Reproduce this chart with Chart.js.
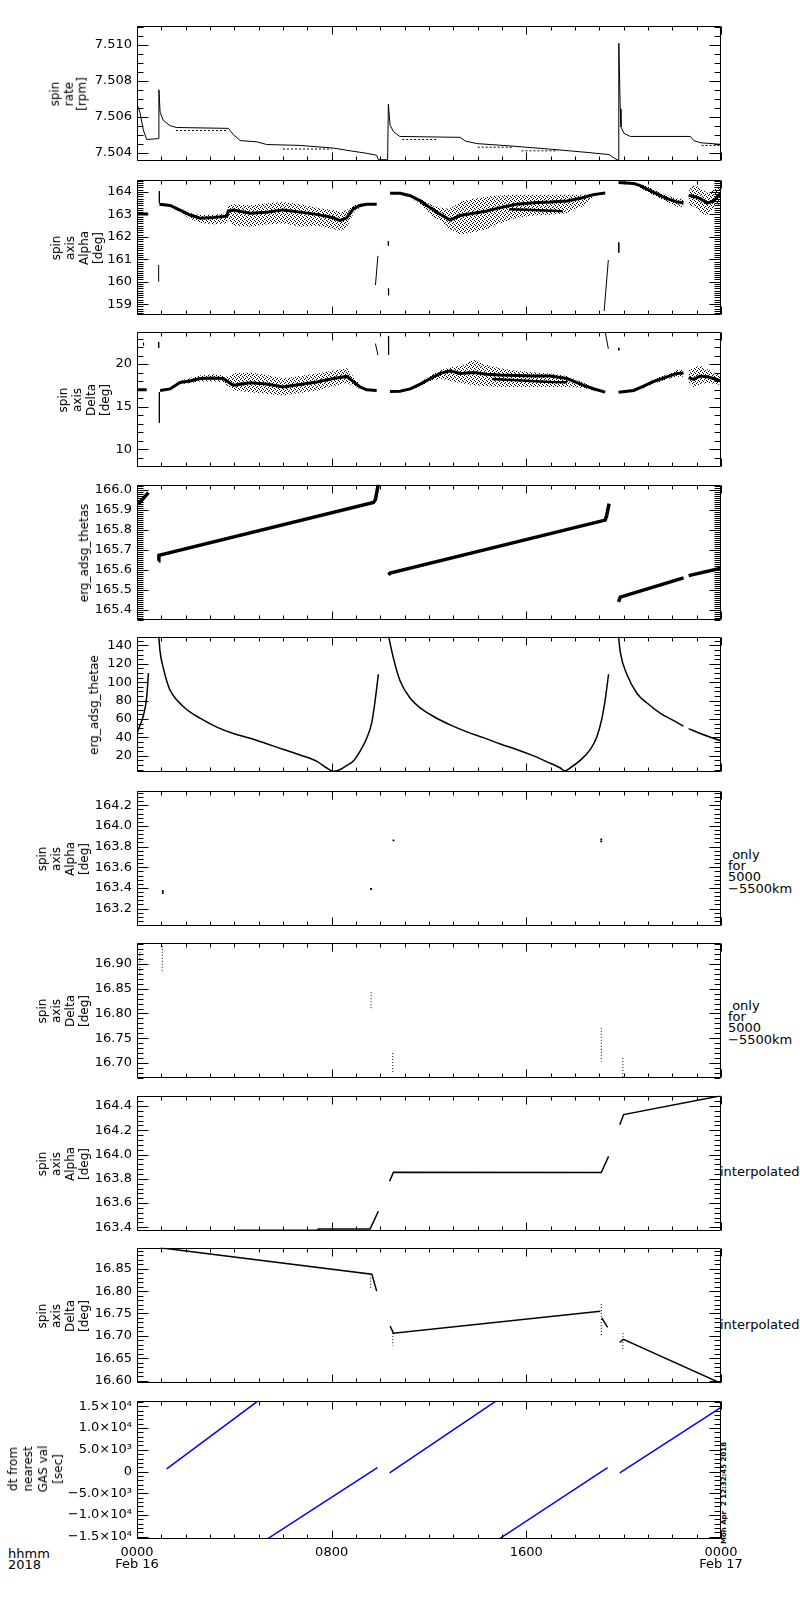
<!DOCTYPE html>
<html>
<head>
<meta charset="utf-8">
<script src="https://cdn.jsdelivr.net/npm/chart.js@4.4.1/dist/chart.umd.min.js"></script>
<style>
  body { margin: 0; background: #fff; width: 800px; height: 1600px; position: relative; overflow: hidden;
         font-family: "DejaVu Sans", sans-serif; color: #000; }
  .panel { position: absolute; left: 0; width: 800px; }
  .note { position: absolute; font-size: 13px; line-height: 11.2px; white-space: pre; }
  .ytitle { position: absolute; font-size: 12px; white-space: pre; text-align: center;
            transform: translate(-50%, -50%) rotate(-90deg); }
  .stamp { position: absolute; font-size: 7px; font-weight: bold; white-space: pre;
           transform: translate(-50%, -50%) rotate(-90deg); }
</style>
</head>
<body>
<div class="note" style="left:8px;top:1548px">hhmm
2018</div>
<div class="note" style="left:728px;top:849px"> only
for
5000
−5500km</div>
<div class="note" style="left:728px;top:1000px"> only
for
5000
−5500km</div>
<div class="note" style="left:720px;top:1166px">interpolated</div>
<div class="note" style="left:720px;top:1319px">interpolated</div>
<div class="stamp" style="left:724px;top:1493px">Mon Apr  2 12:32:45 2018</div>

<script>
// time axis, hours from 0000 Feb 16
const xTickHours = [0, 8, 16, 24];
const xTickText = [['0000', 'Feb 16'], '0800', '1600', ['0000', 'Feb 17']];

// spin rate [rpm]
const rateHours = [0, 0.12, 0.26, 0.40, 0.88, 0.9, 0.95, 1.08, 1.36, 1.63, 3.76, 3.96, 4.24, 4.92, 5.33, 6.7, 8.07, 8.76, 9.44, 9.85, 9.92, 10.3, 10.33, 10.4, 10.54, 10.8, 13.28, 13.5, 13.98, 15.35, 17.0, 18.5, 19.4, 19.72, 19.78, 19.8, 19.86, 19.89, 20.0, 20.27, 22.74, 22.88, 23.15, 24];
const rateValues = [7.5067, 7.50625, 7.50526, 7.50473, 7.50478, 7.5075, 7.50625, 7.5058, 7.5055, 7.5054, 7.50535, 7.505, 7.50467, 7.5046, 7.50445, 7.5044, 7.50425, 7.5041, 7.50396, 7.50385, 7.5036, 7.5036, 7.5067, 7.50553, 7.50517, 7.5049, 7.50485, 7.50464, 7.5045, 7.50437, 7.50419, 7.50401, 7.50389, 7.5036, 7.5036, 7.5101, 7.50643, 7.50544, 7.50509, 7.5049, 7.5049, 7.50467, 7.50455, 7.50446];
const rateRowHours = [1.6, 3.7, 3.72, 6.0, 8.0, 8.02, 10.9, 12.3, 12.32, 14.0, 15.4, 15.42, 15.8, 17.3, 17.32, 23.2, 24];
const rateRowValues = [7.50523, 7.50523, null, 7.5042, 7.5042, null, 7.50473, 7.50473, null, 7.5043, 7.5043, null, 7.5041, 7.5041, null, 7.5044, 7.5044];

// spin axis Alpha [deg]
const alphaHours = [0, 0.45, 0.6,
  0.92, 1.36, 1.77, 2.18, 2.59, 3.14, 3.69, 3.75, 3.96, 4.65, 5.33, 6.0, 6.7, 7.39, 8.07, 8.35, 8.62, 8.9, 9.17, 9.44, 9.85, 10.1,
  10.4, 10.81, 11.23, 11.64, 12.05, 12.47, 12.87, 13.28, 13.83, 14.38, 14.93, 15.6, 16.3, 16.98, 17.67, 18.36, 18.76, 19.24, 19.5,
  19.79, 20.41, 20.68, 21.1, 21.5, 21.78, 22.19, 22.46, 22.55,
  22.67, 22.88, 23.15, 23.43, 23.7, 24];
const alphaCore = [163.02, 163.02, null,
  163.45, 163.40, 163.19, 162.97, 162.83, 162.86, 162.92, 163.15, 163.19, 163.05, 163.1, 163.2, 163.1, 163.0, 162.85, 162.72, 162.85, 163.25, 163.4, 163.45, 163.45, null,
  163.94, 163.94, 163.83, 163.6, 163.3, 163.0, 162.75, 162.95, 163.05, 163.15, 163.3, 163.45, 163.52, 163.55, 163.6, 163.75, 163.88, 163.95, null,
  164.42, 164.38, 164.28, 164.05, 163.85, 163.7, 163.55, 163.52, null,
  163.85, 163.8, 163.7, 163.5, 163.6, 163.95];
const alphaUpper = [163.07, 163.07, null,
  163.48, 163.45, 163.27, 163.06, 162.97, 162.98, 163.05, 163.4, 163.45, 163.4, 163.5, 163.55, 163.45, 163.3, 163.2, 163.1, 163.2, 163.42, 163.47, 163.48, 163.48, null,
  163.97, 163.98, 163.88, 163.7, 163.45, 163.3, 163.25, 163.55, 163.7, 163.78, 163.85, 163.87, 163.87, 163.87, 163.87, 163.87, 163.93, 163.98, null,
  164.45, 164.42, 164.35, 164.2, 164.0, 163.85, 163.7, 163.7, null,
  164.1, 164.3, 164.2, 163.95, 164.1, 164.3];
const alphaLower = [162.97, 162.97, null,
  163.42, 163.33, 163.08, 162.8, 162.62, 162.55, 162.6, 162.8, 162.5, 162.45, 162.55, 162.6, 162.45, 162.5, 162.35, 162.25, 162.4, 163.05, 163.32, 163.42, 163.42, null,
  163.91, 163.9, 163.75, 163.45, 163.0, 162.7, 162.3, 162.1, 162.2, 162.35, 162.6, 162.85, 162.95, 162.98, 163.05, 163.4, 163.8, 163.92, null,
  164.39, 164.34, 164.2, 163.9, 163.7, 163.55, 163.35, 163.3, null,
  163.4, 163.35, 163.1, 162.95, 163.3, 163.5];
const alphaCore2Hours = [15.3, 16.3, 17.5];
const alphaCore2Values = [163.23, 163.2, 163.14];
const alphaSpikeHours = [0.89, 0.89, 0.9, 0.92, 0.92, 1.0, 9.8, 9.9, 10.0, 10.33, 10.33, 10.34, 10.33, 10.34, 10.4, 19.2, 19.37, 19.5, 19.79, 19.8];
const alphaSpikeValues = [160.0, 160.75, null, 164.04, 163.5, null, 159.85, 161.15, null, 161.8, 161.6, null, 159.7, 159.4, null, 158.7, 160.97, null, 161.75, 161.3];

// spin axis Delta [deg]
const deltaHours = [0, 0.4, 0.6,
  0.95, 1.36, 1.77, 2.18, 2.59, 3.14, 3.55, 3.69, 3.96, 4.65, 5.33, 6.0, 6.7, 7.39, 8.07, 8.62, 8.9, 9.17, 9.44, 9.85, 10.1,
  10.4, 10.81, 11.23, 11.64, 12.05, 12.47, 12.87, 13.28, 13.83, 14.38, 14.93, 15.6, 16.3, 16.98, 17.67, 18.36, 18.76, 19.24, 19.5,
  19.79, 20.41, 20.82, 21.23, 21.78, 22.19, 22.46, 22.55,
  22.67, 22.88, 23.15, 23.43, 23.7, 24];
const deltaCore = [16.97, 16.97, null,
  16.9, 17.08, 17.84, 18.0, 18.3, 18.35, 18.3, 18.0, 17.5, 17.8, 17.65, 17.3, 17.6, 17.9, 18.3, 18.55, 17.9, 17.3, 16.97, 16.9, null,
  16.78, 16.8, 17.08, 17.65, 18.3, 18.9, 19.2, 18.9, 19.0, 18.8, 18.7, 18.65, 18.6, 18.6, 18.3, 17.5, 17.1, 16.7, null,
  16.7, 16.9, 17.4, 17.95, 18.5, 18.9, 18.95, null,
  18.4, 18.2, 18.6, 18.5, 18.3, 18.0];
const deltaUpper = [17.03, 17.03, null,
  16.97, 17.2, 18.05, 18.35, 18.65, 18.8, 18.65, 18.5, 18.9, 19.0, 18.7, 18.3, 18.6, 18.9, 19.2, 19.5, 18.5, 17.55, 17.05, 16.97, null,
  16.82, 16.86, 17.2, 17.85, 18.6, 19.3, 19.6, 19.8, 20.5, 19.9, 19.5, 19.2, 19.0, 18.9, 18.6, 17.8, 17.3, 16.75, null,
  16.73, 16.97, 17.6, 18.2, 18.8, 19.3, 19.4, null,
  19.3, 19.6, 19.8, 19.4, 19.0, 18.8];
const deltaLower = [16.91, 16.91, null,
  16.83, 16.98, 17.65, 17.75, 17.95, 17.95, 17.9, 17.5, 16.9, 16.7, 16.5, 16.3, 16.6, 16.9, 17.4, 17.8, 17.4, 17.05, 16.88, 16.83, null,
  16.74, 16.74, 16.95, 17.4, 18.0, 18.3, 18.0, 17.8, 17.5, 17.4, 17.3, 17.3, 17.3, 17.3, 17.3, 17.2, 16.9, 16.65, null,
  16.67, 16.83, 17.2, 17.7, 18.2, 18.5, 18.5, null,
  17.8, 17.3, 17.6, 17.8, 17.7, 17.5];
const deltaCore2Hours = [14.6, 15.6, 16.98, 17.67];
const deltaCore2Values = [18.25, 18.1, 17.9, 17.85];
const deltaSpikeHours = [0.26, 0.27, 0.3, 0.89, 0.89, 0.9, 0.92, 0.92, 1.0, 9.8, 9.9, 10.0, 10.33, 10.34, 10.36, 19.24, 19.37, 19.5, 19.79, 19.8];
const deltaSpikeValues = [22.5, 22.2, null, 22.6, 21.9, null, 16.7, 13.1, null, 22.4, 21.06, null, 23.3, 21.1, null, 23.8, 21.8, null, 21.9, 21.6];

// erg_adsg_thetas
const thetasHours = [0.05, 0.47, 0.6, 0.88, 0.9, 9.72, 9.8, 9.92, 10.1, 10.33, 10.4, 19.24, 19.3, 19.4, 19.6, 19.79, 19.86, 22.46, 22.55, 22.67, 24];
const thetasValues = [165.928, 165.985, null, 165.645, 165.672, 165.936, 165.95, 166.03, null, 165.576, 165.584, 165.848, 165.87, 165.93, null, 165.44, 165.464, 165.56, null, 165.571, 165.608];

// erg_adsg_thetae
const thetaeHours = [0, 0.12, 0.26, 0.4, 0.47, 0.6,
  0.88, 0.95, 1.08, 1.22, 1.36, 1.63, 2.04, 2.59, 3.28, 3.96, 4.65, 5.33, 6.02, 6.7, 7.39, 7.8, 8.07, 8.28, 8.62, 8.9, 9.17, 9.44, 9.65, 9.79, 9.92, 10.1,
  10.3, 10.54, 10.81, 11.23, 11.64, 12.19, 12.87, 13.56, 14.24, 14.93, 15.6, 16.3, 16.98, 17.4, 17.57, 17.81, 18.2, 18.63, 18.9, 19.1, 19.24, 19.38, 19.6,
  19.77, 19.86, 20.13, 20.55, 20.96, 21.51, 22.06, 22.46, 22.55,
  22.67, 23.15, 24];
const thetaeValues = [44.3, 53, 63.5, 84.3, 110, null,
  155, 133, 115.7, 101.7, 91.3, 80.9, 70.4, 61, 51.3, 44.3, 39.1, 33.2, 27, 21, 14.1, 6.8, 3.3, 4.3, 9.6, 14.8, 25.2, 39.1, 56.5, 80.9, 108.7, null,
  155, 126, 101.7, 82.6, 72.2, 62.8, 53.7, 46.1, 39.8, 32.9, 27, 20, 12, 6.8, 3.7, 7.1, 14.8, 27, 40.9, 60, 80.9, 108.7, null,
  155, 133, 108.7, 87.8, 77.4, 66.3, 58.3, 52.3, null,
  49.6, 44.3, 36.3];

// spin axis Alpha, only for 5000-5500km
const altAlphaHours = [1.06, 1.06, 9.62, 10.54, 19.08, 19.08];
const altAlphaValues = [163.37, 163.35, 163.39, 163.86, 163.87, 163.85];

// spin axis Delta, only for 5000-5500km
const altDeltaHours = [0.12, 0.12, 0.2, 1.04, 1.04, 1.1, 9.62, 9.62, 9.7, 10.51, 10.51, 10.6, 19.08, 19.08, 19.1, 19.97, 19.97];
const altDeltaValues = [16.93, 16.875, null, 16.937, 16.882, null, 16.843, 16.81, null, 16.72, 16.68, null, 16.771, 16.703, null, 16.71, 16.67];

// spin axis Alpha, interpolated
const interpAlphaHours = [4.1, 7.39, 7.45, 9.58, 9.92, 10.1, 10.38, 10.54, 19.08, 19.38, 19.6, 19.84, 20.0, 24];
const interpAlphaValues = [163.376, 163.376, 163.387, 163.387, 163.533, null, 163.78, 163.855, 163.852, 163.985, null, 164.246, 164.33, 164.485];

// spin axis Delta, interpolated
const interpDeltaHours = [0.95, 9.65, 9.85, 10.1, 10.4, 10.54, 19.04, 19.06, 19.1, 19.34, 19.6, 19.83, 19.99, 24];
const interpDeltaValues = [16.897, 16.838, 16.80, null, 16.722, 16.706, 16.755, null, 16.74, 16.719, null, 16.685, 16.692, 16.594];
const interpDeltaDotHours = [9.6, 9.6, 9.62, 10.51, 10.51, 10.55, 19.08, 19.08, 19.1, 19.97, 19.97];
const interpDeltaDotValues = [16.83, 16.805, null, 16.706, 16.678, null, 16.771, 16.699, null, 16.706, 16.667];

// dt from nearest GAS val [sec]
const dtHours = [1.22, 4.99, 5.1, 5.33, 9.88, 10.1, 10.38, 14.78, 14.82, 14.86, 19.34, 19.6, 19.84, 24];
const dtValues = [600, 16300, null, -15600, 905, null, -300, 16300, null, -15600, 905, null, -300, 14778];
const dtTickValues = [-15000, -10000, -5000, 0, 5000, 10000, 15000];
const dtTickText = ['−1.5×10⁴', '−1.0×10⁴', '−5.0×10³', '0', '5.0×10³', '1.0×10⁴', '1.5×10⁴'];

Chart.defaults.font.family = '"DejaVu Sans", sans-serif';
Chart.defaults.color = '#000';

function pts(hours, values) {
  return hours.map((h, i) => ({ x: h, y: values[i] }));
}

function line(hours, values, extra) {
  return Object.assign({
    data: pts(hours, values),
    borderColor: '#000',
    borderWidth: 1,
    pointRadius: 0,
    fill: false,
    spanGaps: false
  }, extra || {});
}

// sparse scatter look for the noisy parts
function stipple() {
  const c = document.createElement('canvas');
  c.width = 4; c.height = 4;
  const g = c.getContext('2d');
  g.fillStyle = '#000';
  [[0, 0], [2, 1], [1, 3], [3, 2]].forEach(([a, b]) => g.fillRect(a, b, 1, 1));
  return g.createPattern(c, 'repeat');
}

function band(hours, upper, lower) {
  return [
    line(hours, upper, { borderColor: 'rgba(0,0,0,0)' }),
    line(hours, lower, { borderColor: 'rgba(0,0,0,0)', fill: '-1', backgroundColor: stipple() })
  ];
}

// box with inward ticks on all four sides, like the original plot
const idlFrame = {
  id: 'idlFrame',
  afterDraw(chart, args, opts) {
    const { ctx, chartArea: a, scales: { x, y } } = chart;
    const L = Math.round(a.left) + 0.5, R = Math.round(a.right) - 0.5;
    const T = Math.round(a.top) + 0.5, B = Math.round(a.bottom) - 0.5;
    ctx.save();
    ctx.strokeStyle = '#000';
    ctx.lineWidth = 1;
    ctx.beginPath();
    ctx.rect(L, T, R - L, B - T);
    const ratio = Math.round(opts.major / opts.minor);
    const k0 = Math.ceil(y.min / opts.minor - 1e-6), k1 = Math.floor(y.max / opts.minor + 1e-6);
    for (let k = k0; k <= k1; k++) {
      const p = Math.round(y.getPixelForValue(k * opts.minor)) + 0.5;
      const len = ((k % ratio) + ratio) % ratio === 0 ? 11 : 6;
      ctx.moveTo(L, p); ctx.lineTo(L + len, p);
      ctx.moveTo(R, p); ctx.lineTo(R - len, p);
    }
    for (let h = 0; h <= 24; h++) {
      const p = Math.round(x.getPixelForValue(h)) + 0.5;
      const len = h % 8 === 0 ? 8 : 4;
      ctx.moveTo(p, T); ctx.lineTo(p, T + len);
      ctx.moveTo(p, B); ctx.lineTo(p, B - len);
    }
    ctx.stroke();
    ctx.restore();
  }
};

function majorTicks(p) {
  if (p.ticks) return p.ticks;
  const out = [];
  for (let k = Math.ceil(p.yMin / p.major - 1e-6); k * p.major <= p.yMax + 1e-9; k++) {
    out.push(+(k * p.major).toFixed(6));
  }
  return out;
}

const fixed = d => v => v.toFixed(d);
const fourLines = w => ['spin', 'axis', w, '[deg]'];

const panels = [
  { top: 23, yMin: 7.50352, yMax: 7.51107, major: 0.002, minor: 0.0005, label: fixed(3),
    title: ['spin', 'rate', '[rpm]'], titleX: 69, titleLH: 13.5,
    sets: [line(rateHours, rateValues), line(rateRowHours, rateRowValues, { borderDash: [2, 2] })] },
  { top: 177, yMin: 158.51, yMax: 164.54, major: 1, minor: 0.1, label: fixed(0),
    title: fourLines('Alpha'), titleX: 77, titleLH: 14,
    sets: [...band(alphaHours, alphaUpper, alphaLower),
           line(alphaHours, alphaCore, { borderWidth: 3 }),
           line(alphaCore2Hours, alphaCore2Values, { borderWidth: 2.5 }),
           line(alphaSpikeHours, alphaSpikeValues)] },
  { top: 329, yMin: 7.88, yMax: 23.79, major: 5, minor: 1, label: fixed(0),
    title: fourLines('Delta'), titleX: 84, titleLH: 14,
    sets: [...band(deltaHours, deltaUpper, deltaLower),
           line(deltaHours, deltaCore, { borderWidth: 3 }),
           line(deltaCore2Hours, deltaCore2Values, { borderWidth: 2.5 }),
           line(deltaSpikeHours, deltaSpikeValues)] },
  { top: 482, yMin: 165.349, yMax: 166.024, major: 0.1, minor: 0.01, label: fixed(1),
    title: ['erg_adsg_thetas'], titleX: 83.5, titleLH: 12,
    sets: [line(thetasHours, thetasValues, { borderWidth: 3.5 })] },
  { top: 634, yMin: 2.26, yMax: 149.4, major: 20, minor: 5, label: fixed(0),
    title: ['erg_adsg_thetae'], titleX: 93.5, titleLH: 12,
    sets: [line(thetaeHours, thetaeValues, { borderWidth: 1.5, cubicInterpolationMode: 'monotone' })] },
  { top: 788, yMin: 163.03, yMax: 164.34, major: 0.2, minor: 0.04, label: fixed(1),
    title: fourLines('Alpha'), titleX: 63, titleLH: 14,
    sets: [line(altAlphaHours, altAlphaValues, { showLine: false, pointRadius: 1.3, pointStyle: 'rect', backgroundColor: '#000', borderWidth: 0 })] },
  { top: 940, yMin: 16.669, yMax: 16.943, major: 0.05, minor: 0.01, label: fixed(2),
    title: fourLines('Delta'), titleX: 63, titleLH: 14,
    sets: [line(altDeltaHours, altDeltaValues, { borderDash: [1, 2] })] },
  { top: 1093, yMin: 163.368, yMax: 164.485, major: 0.2, minor: 0.04, label: fixed(1),
    title: fourLines('Alpha'), titleX: 63, titleLH: 14,
    sets: [line(interpAlphaHours, interpAlphaValues, { borderWidth: 1.5 })] },
  { top: 1245, yMin: 16.594, yMax: 16.897, major: 0.05, minor: 0.01, label: fixed(2),
    title: fourLines('Delta'), titleX: 63, titleLH: 14,
    sets: [line(interpDeltaHours, interpDeltaValues, { borderWidth: 1.5 }),
           line(interpDeltaDotHours, interpDeltaDotValues, { borderDash: [1, 2] })] },
  { top: 1398, yMin: -15528, yMax: 16282, major: 5000, minor: 1000, ticks: dtTickValues,
    label: v => {
      const i = dtTickValues.indexOf(Math.round(v));
      return i >= 0 ? dtTickText[i] : '';
    },
    title: ['dt from', 'nearest', 'GAS val', '[sec]'], titleX: 36, titleLH: 15,
    sets: [line(dtHours, dtValues, { borderColor: '#0000ff', borderWidth: 1.5 })] }
];

panels.forEach((p, i) => {
  const last = i === panels.length - 1;
  const box = document.createElement('div');
  box.className = 'panel';
  box.style.top = (p.top - 10) + 'px';
  box.style.height = (161 + (last ? 40 : 0)) + 'px';
  const cv = document.createElement('canvas');
  box.appendChild(cv);
  document.body.appendChild(box);

  const t = document.createElement('div');
  t.className = 'ytitle';
  t.style.left = p.titleX + 'px';
  t.style.top = (p.top + 70.5) + 'px';
  t.style.lineHeight = p.titleLH + 'px';
  t.textContent = p.title.join('\n');
  document.body.appendChild(t);

  new Chart(cv, {
    type: 'line',
    data: { datasets: p.sets },
    options: {
      responsive: true,
      maintainAspectRatio: false,
      animation: false,
      layout: { padding: { top: 10, bottom: 10, left: 0, right: 79 } },
      plugins: {
        legend: { display: false },
        tooltip: { enabled: false },
        idlFrame: { major: p.major, minor: p.minor }
      },
      scales: {
        x: {
          type: 'linear', min: 0, max: 24,
          grid: { display: false, drawTicks: false },
          border: { display: false },
          ticks: {
            display: last, stepSize: 8, autoSkip: false, maxRotation: 0, padding: 8,
            font: { size: 13, lineHeight: '12px' },
            callback: v => xTickText[xTickHours.indexOf(Math.round(v))] ?? ''
          },
          afterFit: s => { s.height = last ? 40 : 0; s.paddingLeft = 0; s.paddingRight = 0; }
        },
        y: {
          type: 'linear', min: p.yMin, max: p.yMax,
          grid: { display: false, drawTicks: false },
          border: { display: false },
          ticks: { autoSkip: false, padding: 5, font: { size: 13 }, callback: p.label },
          afterBuildTicks: s => { s.ticks = majorTicks(p).map(v => ({ value: v })); },
          afterFit: s => { s.width = 137; }
        }
      }
    },
    plugins: [idlFrame]
  });
});
</script>
</body>
</html>
